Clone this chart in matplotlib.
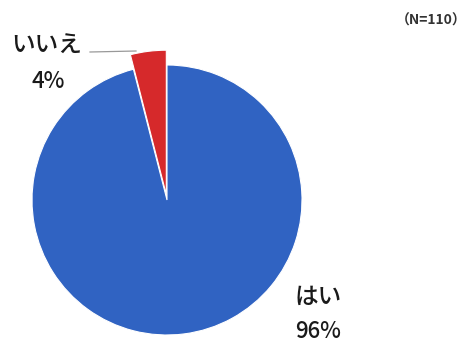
import matplotlib
matplotlib.use("Agg")
import matplotlib.pyplot as plt

plt.rcParams['font.family'] = ['Noto Sans CJK JP', 'DejaVu Sans']

labels = ["はい", "いいえ"]
values = [96, 4]
colors = ["#3063c2", "#d6292b"]
n_total = 110

fig = plt.figure(figsize=(4.70, 3.43), dpi=100)
W, H = 470, 343
cx, cy, R = 167, 200, 135
ax = fig.add_axes([(cx - R) / W, (H - cy - R) / H, 2 * R / W, 2 * R / H])

wedges, _ = ax.pie(values, colors=colors, startangle=90, counterclock=False,
                   explode=[0, 0.04], radius=1.0,
                   wedgeprops=dict(edgecolor="white", linewidth=0.8))
wedges[1].set_radius(1.07)
for w in wedges:
    w.set_clip_on(False)
ax.set_xlim(-1, 1)
ax.set_ylim(-1, 1)
ax.axis("off")

def px(x, y):
    return x / W, 1 - y / H

txt = dict(ha="center", va="center", color="#1a1a1a", fontweight="medium")
# category labels with their percentages
fig.text(*px(47, 46), labels[1], fontsize=17, **txt)
fig.text(*px(48, 81), f"{values[1]}%", fontsize=16, **txt)
fig.text(*px(318, 297), labels[0], fontsize=17, **txt)
fig.text(*px(318, 332), f"{values[0]}%", fontsize=16, **txt)

# leader line for the small slice
fig.add_artist(plt.Line2D([90 / W, 136 / W], [1 - 52 / H, 1 - 51 / H],
                          color="#999999", linewidth=0.9))

fig.text(*px(431, 21), f"（N={n_total}）", ha="center", va="center",
         fontsize=10, fontweight="bold", color="#333333")

fig.savefig("out.png", dpi=100)
